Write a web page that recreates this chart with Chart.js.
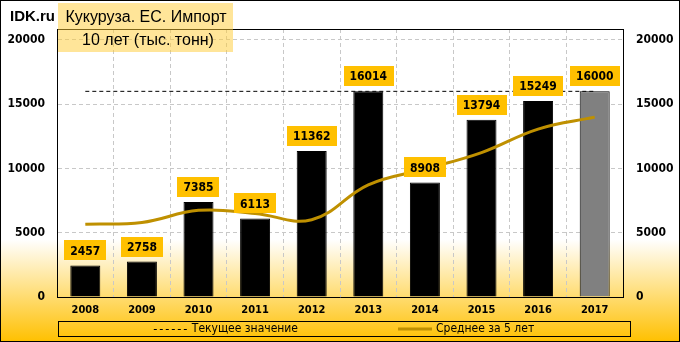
<!DOCTYPE html>
<html>
<head>
<meta charset="utf-8">
<script src="https://cdn.jsdelivr.net/npm/chart.js@4.4.0/dist/chart.umd.min.js"></script>
<style>
  html, body { margin: 0; padding: 0; background: #fff; }
  #wrap { width: 680px; height: 342px; }
</style>
</head>
<body>
<div id="wrap"><canvas id="chart" width="680" height="342"></canvas></div>
<script>
const years = ["2008", "2009", "2010", "2011", "2012", "2013", "2014", "2015", "2016", "2017"];
const imports = [2457, 2758, 7385, 6113, 11362, 16014, 8908, 13794, 15249, 16000];
const avg5 = [5660, 5800, 6740, 6500, 6015, 8726, 9956, 11238, 13065, 13993];
const current = [16000, 16000, 16000, 16000, 16000, 16000, 16000, 16000, 16000, 16000];
const yTicks = [0, 5000, 10000, 15000, 20000];
const yMax = 20850;
const titleLines = ["Кукуруза. ЕС. Импорт", "10 лет (тыс. тонн)"];
const legendNames = ["Текущее значение", "Среднее за 5 лет"];

const GOLD = "#BF9000";
const LABEL_BG = "#FFC000";
const NARROW = "'DejaVu Sans Condensed', 'Liberation Sans Narrow', sans-serif";
const BOLD = "bold 12px " + NARROW;

const background = {
  id: "background",
  beforeDraw(chart) {
    const { ctx, width, height } = chart;
    const g = ctx.createLinearGradient(0, 0, 0, height);
    g.addColorStop(0, "#ffffff");
    g.addColorStop(0.7, "#ffffff");
    g.addColorStop(1, "#FFC000");
    ctx.save();
    ctx.fillStyle = g;
    ctx.fillRect(0, 0, width, height);
    ctx.restore();
  }
};

const barLabels = {
  id: "barLabels",
  afterDatasetsDraw(chart) {
    const { ctx } = chart;
    const meta = chart.getDatasetMeta(2);
    ctx.save();
    ctx.font = BOLD;
    ctx.textAlign = "center";
    ctx.textBaseline = "middle";
    meta.data.forEach((bar, i) => {
      const txt = String(imports[i]);
      const w = ctx.measureText(txt).width + 12;
      const h = 20;
      const bottom = bar.y - 5;
      ctx.fillStyle = LABEL_BG;
      ctx.fillRect(Math.round(bar.x - w / 2), Math.round(bottom - h), Math.round(w), h);
      ctx.fillStyle = "#000";
      ctx.fillText(txt, bar.x, bottom - h / 2 + 1);
    });
    ctx.restore();
  }
};

const decorations = {
  id: "decorations",
  afterDraw(chart) {
    const { ctx, chartArea: a, width, height } = chart;
    ctx.save();
    // plot frame top
    ctx.strokeStyle = "#000";
    ctx.lineWidth = 1;
    ctx.beginPath();
    ctx.moveTo(a.left, a.top + 0.5);
    ctx.lineTo(a.right, a.top + 0.5);
    ctx.stroke();

    // title
    ctx.fillStyle = "rgba(255, 204, 51, 0.5)";
    ctx.fillRect(58, 3, 175, 49);
    ctx.fillStyle = "#000";
    ctx.textAlign = "center";
    ctx.textBaseline = "middle";
    ctx.font = "16px 'Liberation Sans'";
    ctx.fillText(titleLines[0], 146, 18);
    ctx.fillText(titleLines[1], 148, 41);
    ctx.textAlign = "left";
    ctx.font = "bold 15px 'Liberation Sans'";
    ctx.fillText("IDK.ru", 10, 17);

    // legend
    ctx.strokeRect(58.5, 321.5, 572, 15);
    ctx.font = "12px " + NARROW;
    ctx.textBaseline = "middle";
    const ly = 329;
    const w1 = ctx.measureText(legendNames[0]).width;
    const w2 = ctx.measureText(legendNames[1]).width;
    const gap = 100, sample = 34, sp = 4;
    const total = sample + sp + w1 + gap + sample + sp + w2;
    let x = 344 - total / 2;
    ctx.setLineDash([3, 3]);
    ctx.beginPath();
    ctx.moveTo(x, ly + 0.5);
    ctx.lineTo(x + sample, ly + 0.5);
    ctx.stroke();
    ctx.setLineDash([]);
    ctx.fillText(legendNames[0], x + sample + sp, ly);
    x += sample + sp + w1 + gap;
    ctx.strokeStyle = GOLD;
    ctx.lineWidth = 3;
    ctx.beginPath();
    ctx.moveTo(x, ly);
    ctx.lineTo(x + sample, ly);
    ctx.stroke();
    ctx.fillText(legendNames[1], x + sample + sp, ly);

    // outer border
    ctx.strokeStyle = "#000";
    ctx.lineWidth = 1;
    ctx.strokeRect(0.5, 0.5, width - 1, height - 1);
    ctx.restore();
  }
};

const tickFont = { family: NARROW, weight: "bold", size: 12 };

new Chart(document.getElementById("chart"), {
  type: "bar",
  data: {
    labels: years,
    datasets: [
      {
        type: "line",
        label: legendNames[0],
        data: current,
        borderColor: "#000",
        borderWidth: 1,
        borderDash: [4, 3],
        pointRadius: 0,
        fill: false,
        order: 1
      },
      {
        type: "line",
        label: legendNames[1],
        data: avg5,
        borderColor: GOLD,
        borderWidth: 3,
        tension: 0.4,
        pointRadius: 0,
        fill: false,
        order: 2
      },
      {
        label: "Импорт",
        data: imports,
        backgroundColor: imports.map((v, i) => i === imports.length - 1 ? "#808080" : "#000"),
        borderColor: "#000",
        borderWidth: 1,
        barPercentage: 0.53,
        categoryPercentage: 1,
        order: 3
      }
    ]
  },
  options: {
    responsive: false,
    animation: false,
    layout: { padding: { top: 29, left: 0, right: 0, bottom: 0 } },
    plugins: {
      legend: { display: false },
      tooltip: { enabled: false }
    },
    scales: {
      x: {
        grid: { color: "#C8C8C8", drawTicks: false, offset: true },
        border: { color: "#000", dash: [4, 3] },
        ticks: { color: "#000", font: { family: NARROW, weight: "bold", size: 11 }, padding: 7 },
        afterFit(s) { s.height = 45; }
      },
      y: {
        min: 0,
        max: yMax,
        afterBuildTicks(s) { s.ticks = yTicks.map(v => ({ value: v })); },
        grid: { color: "#C8C8C8", drawTicks: false },
        border: { color: "#000", dash: [4, 3] },
        ticks: { color: "#000", font: tickFont, padding: 12, callback: v => String(v) },
        afterFit(s) { s.width = 57; }
      },
      y2: {
        position: "right",
        min: 0,
        max: yMax,
        afterBuildTicks(s) { s.ticks = yTicks.map(v => ({ value: v })); },
        grid: { display: false, drawTicks: false },
        border: { color: "#000" },
        ticks: { color: "#000", font: tickFont, padding: 13, callback: v => String(v) },
        afterFit(s) { s.width = 57; }
      }
    }
  },
  plugins: [background, barLabels, decorations]
});
</script>
</body>
</html>
